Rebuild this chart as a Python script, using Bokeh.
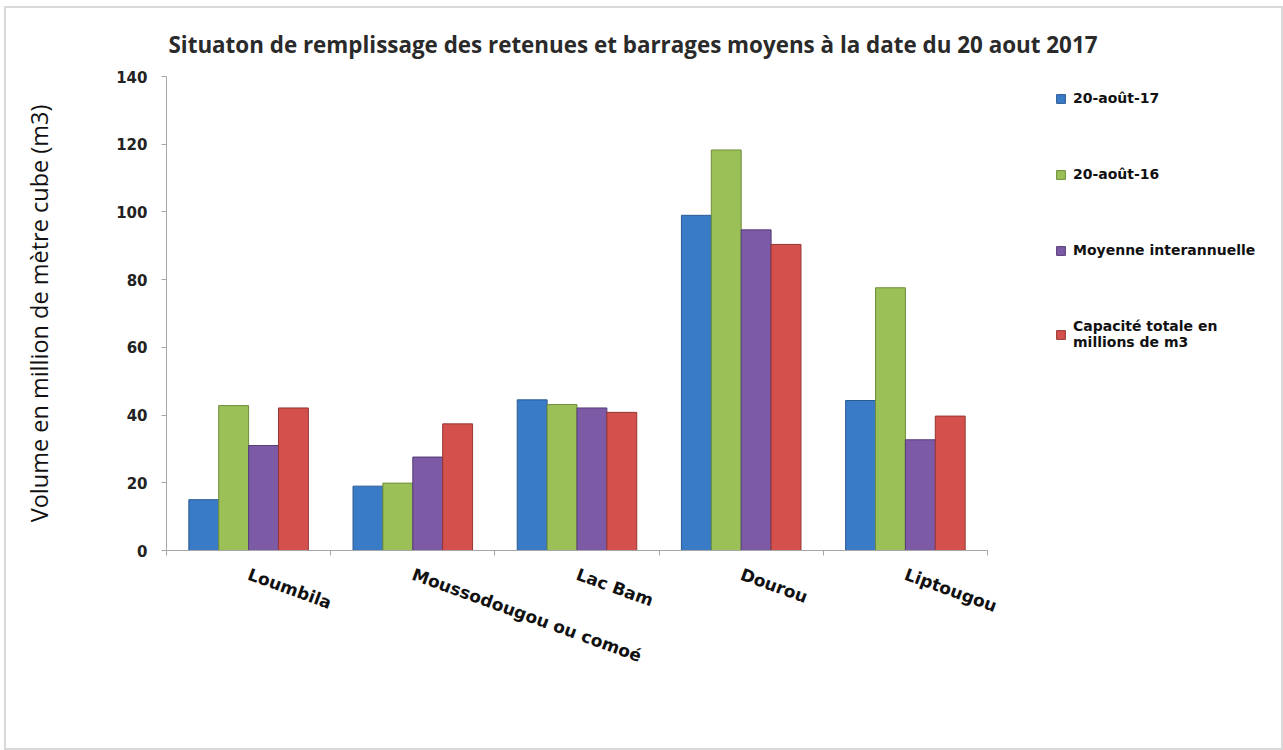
import math
from bokeh.plotting import figure
from bokeh.models import (Range1d, LinearAxis, FixedTicker, Legend, LegendItem, ColumnDataSource)
from bokeh.transform import dodge
from bokeh.embed import file_html
from bokeh.resources import INLINE

# ---- data ----
reservoirs = ["Loumbila", "Moussodougou ou comoé", "Lac Bam", "Dourou", "Liptougou"]
aout_17 = [15.0, 19.0, 44.5, 99.0, 44.3]
aout_16 = [42.8, 19.9, 43.1, 118.3, 77.6]
moyenne = [31.0, 27.6, 42.1, 94.7, 32.7]
capacite = [42.1, 37.4, 40.8, 90.4, 39.7]
series_keys = ["aout_17", "aout_16", "moyenne", "capacite"]
series_labels = ["20-août-17", "20-août-16", "Moyenne interannuelle",
                 "Capacité totale en\nmillions de m3"]
y_ticks = [0, 20, 40, 60, 80, 100, 120, 140]
title_text = "Situaton de remplissage des retenues et barrages moyens à la date du 20 aout 2017"
y_label = "Volume en million de mètre cube (m3)"

# category positions on the x scale (1..n) and category boundaries
positions = list(range(1, len(reservoirs) + 1))
boundaries = [k + 0.5 for k in range(len(reservoirs) + 1)]

# ---- layout / style ----
W, H = 1279, 744
border_l, border_t, border_b = 160, 68, 202
axis_px = 821                      # pixel length of the category axis
frame_px = W - border_l            # frame runs to the right edge (legend sits inside it)
x_end = 0.5 + len(reservoirs) * frame_px / axis_px

fill_colors = ["#3A7BC8", "#9BC057", "#7D5AA6", "#D4504C"]
line_colors = ["#2A5A92", "#6E8C3A", "#553C78", "#953633"]
offsets = [-0.273, -0.091, 0.091, 0.273]
bar_width = 0.182
axis_color = "#a6a6a6"

source = ColumnDataSource(dict(pos=positions, reservoir=reservoirs, aout_17=aout_17,
                               aout_16=aout_16, moyenne=moyenne, capacite=capacite))

p = figure(width=W, height=H,
           x_range=Range1d(0.5, x_end),
           y_range=Range1d(0, 140),
           output_backend="svg", toolbar_location=None, x_axis_location=None,
           min_border_left=border_l, min_border_right=0,
           min_border_top=border_t, min_border_bottom=border_b)
p.styles = {"border": "2px solid #d9d9d9", "box-sizing": "border-box",
            "margin-left": "4px", "margin-top": "6px"}
p.outline_line_color = None
p.grid.visible = False
p.background_fill_color = "white"
p.border_fill_color = "white"

# title
p.title.text = title_text
p.title.text_font = "Open Sans"
p.title.text_font_size = "22.4px"
p.title.text_font_style = "bold"
p.title.text_color = "#2a2a2a"
p.title.align = "left"
p.title.offset = 2
p.title.standoff = 34

# y axis
yax = p.yaxis[0]
yax.ticker = FixedTicker(ticks=y_ticks)
yax.axis_line_color = axis_color
yax.major_tick_line_color = axis_color
yax.major_tick_in = 0
yax.major_tick_out = 5
yax.minor_tick_line_color = None
yax.major_label_text_font = "DejaVu Sans"
yax.major_label_text_font_style = "bold"
yax.major_label_text_font_size = "15px"
yax.major_label_text_color = "#222222"
yax.major_label_standoff = 14
yax.axis_label = y_label
yax.axis_label_text_font = "Open Sans"
yax.axis_label_text_font_style = "normal"
yax.axis_label_text_font_size = "23.5px"
yax.axis_label_text_color = "#111111"
yax.axis_label_standoff = 58

# x axis: boundary ticks, then category labels (both limited to the category span)
span = (boundaries[0], boundaries[-1])
tick_axis = LinearAxis(ticker=FixedTicker(ticks=boundaries), bounds=span,
                       major_label_overrides={b: "" for b in boundaries},
                       major_label_standoff=0,
                       axis_line_color=axis_color, major_tick_line_color=axis_color,
                       major_tick_in=0, major_tick_out=5, minor_tick_line_color=None)
p.add_layout(tick_axis, "below")
cat_axis = LinearAxis(ticker=FixedTicker(ticks=positions), bounds=span,
                      major_label_overrides={k: name for k, name in zip(positions, reservoirs)},
                      axis_line_color=None, major_tick_line_color=None,
                      minor_tick_line_color=None,
                      major_label_orientation=-math.radians(20),
                      major_label_text_font="DejaVu Sans",
                      major_label_text_font_style="bold",
                      major_label_text_font_size="17px",
                      major_label_text_color="#111111",
                      major_label_standoff=12)
p.add_layout(cat_axis, "below")

renderers = []
for key, off, fc, lc in zip(series_keys, offsets, fill_colors, line_colors):
    r = p.vbar(x=dodge("pos", off), top=key, width=bar_width,
               source=source, fill_color=fc, line_color=lc, line_width=1)
    renderers.append(r)

legend = Legend(items=[LegendItem(label=lbl, renderers=[r]) for lbl, r in zip(series_labels, renderers)],
                location=(889, 200), orientation="vertical", spacing=60, padding=0, margin=0,
                glyph_width=11, glyph_height=11, label_standoff=7,
                label_text_font="DejaVu Sans", label_text_font_style="bold",
                label_text_font_size="14px", label_text_color="#111111",
                border_line_color=None, background_fill_alpha=0)
p.add_layout(legend, "center")

open("out.html", "w").write(file_html(p, INLINE))
